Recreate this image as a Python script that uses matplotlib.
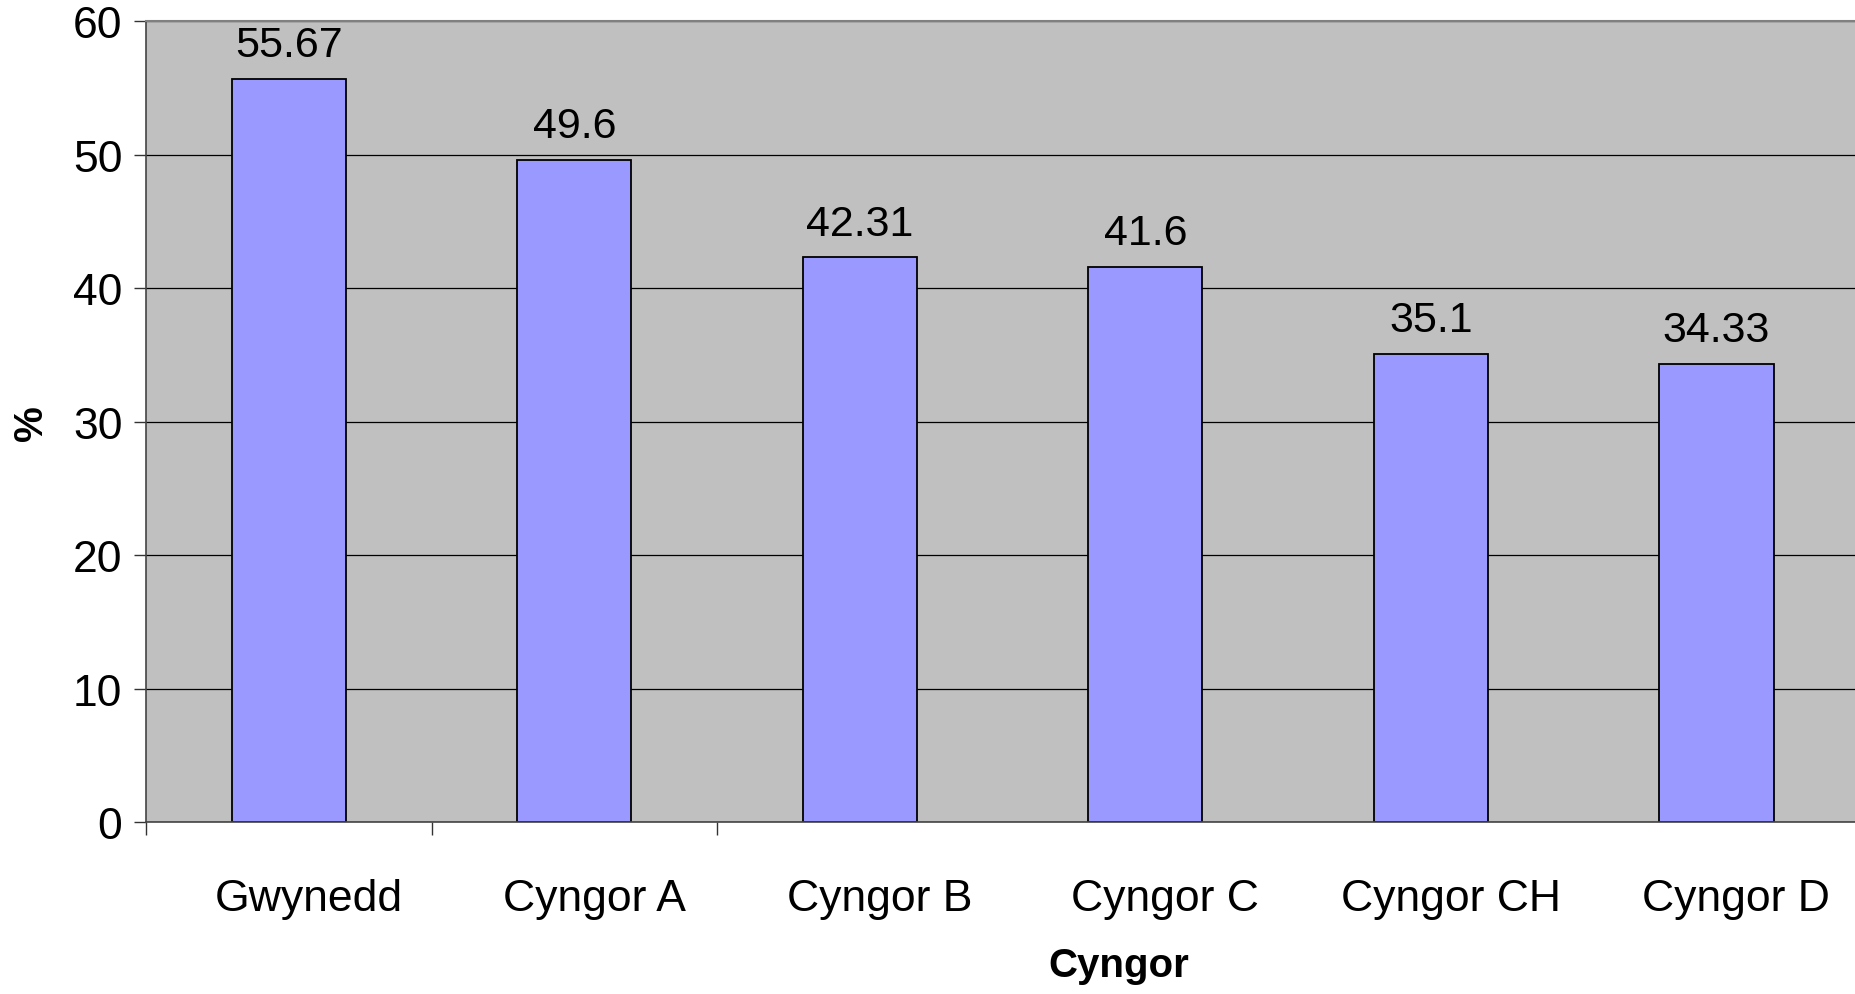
import matplotlib
matplotlib.use("Agg")
import matplotlib.pyplot as plt
import matplotlib.transforms as mtransforms
import numpy as np

# data
councils = ["Gwynedd", "Cyngor A", "Cyngor B", "Cyngor C", "Cyngor CH", "Cyngor D"]
percent = [55.67, 49.6, 42.31, 41.6, 35.1, 34.33]
value_labels = ["55.67", "49.6", "42.31", "41.6", "35.1", "34.33"]
y_ticks = [0, 10, 20, 30, 40, 50, 60]

plt.rcParams["font.family"] = ["Liberation Sans", "DejaVu Sans"]

fig = plt.figure(figsize=(18.56, 9.95), dpi=100)
# the plot area runs slightly past the right edge, as in the original
ax = fig.add_axes([0.0787, 0.1729, 0.923, 0.8045])
ax.set_facecolor("#C0C0C0")

x = np.arange(len(councils))
ax.set_axisbelow(True)
ax.yaxis.grid(True, color="black", linewidth=0.9)
bars = ax.bar(x, percent, width=0.4, color="#9999FF", edgecolor="black", linewidth=1.3)

# value labels above bars
for xi, v, lab in zip(x, percent, value_labels):
    ax.annotate(lab, xy=(xi, v), xytext=(0, 10), textcoords="offset points",
                ha="center", va="bottom", fontsize=31)

ax.set_xlim(-0.5, len(councils) - 0.5)
ax.set_ylim(0, 60)
ax.set_yticks(y_ticks)
ax.tick_params(axis="y", labelsize=32, length=9, width=1, pad=8, color="#333333")

# category labels at centres, tick marks only on the first boundaries
ax.set_xticks(x)
ax.set_xticklabels(councils, fontsize=32)
ax.set_xticks([-0.5, 0.5, 1.5], minor=True)
ax.tick_params(axis="x", which="major", length=0, pad=40)
ax.tick_params(axis="x", which="minor", length=9, width=1, color="#333333")
shift = mtransforms.ScaledTranslation(20 / 100, 0, fig.dpi_scale_trans)
for t in ax.get_xticklabels():
    t.set_transform(t.get_transform() + shift)

ax.set_xlabel("Cyngor", fontsize=29, fontweight="bold")
ax.xaxis.set_label_coords(0.568, -0.155)
ax.set_ylabel("%", fontsize=29, fontweight="bold")
ax.yaxis.set_label_coords(-0.056, 0.5)

for side in ["left", "bottom"]:
    ax.spines[side].set_color("#444444")
    ax.spines[side].set_linewidth(1.2)
ax.spines["top"].set_color("#808080")
ax.spines["top"].set_linewidth(1.5)
ax.spines["right"].set_visible(False)

fig.savefig("out.png", dpi=100)
